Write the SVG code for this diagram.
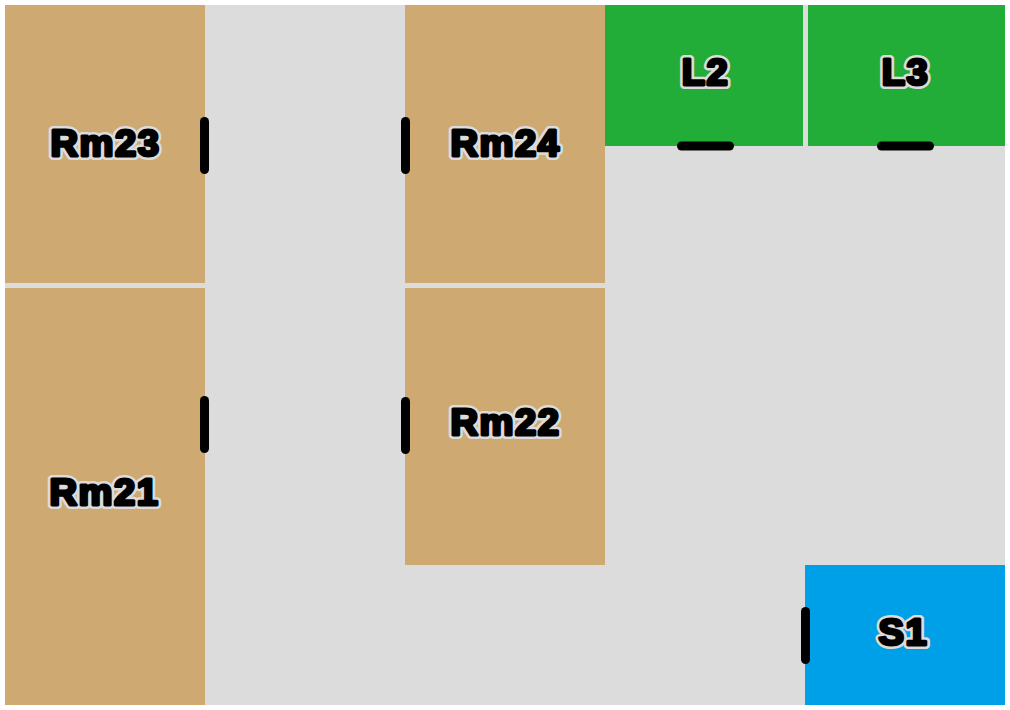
<svg xmlns="http://www.w3.org/2000/svg" width="1010" height="710" viewBox="0 0 1010 710">
<style>
.room{fill:#cea971}.lift{fill:#22ad39}.stair{fill:#00a0e9}
.door{stroke:#000;stroke-width:9;stroke-linecap:round;fill:none}
text{font-family:"Liberation Sans",Arial,sans-serif;font-weight:700;font-size:36px;letter-spacing:1.5px;text-anchor:middle;stroke-linejoin:round}
.halo{fill:#dcdcdc;stroke:#dcdcdc;stroke-width:8}
.ink{fill:#000;stroke:#000;stroke-width:3}
</style>
<rect width="1010" height="710" fill="#fff"/>
<rect id="floor" x="5" y="5" width="1000" height="700" fill="#dcdcdc"/>
<g id="Rm23"><rect class="room" x="5" y="5" width="200" height="278"/><g transform="translate(105.500 156) scale(1.06 1)"><text class="halo">Rm23</text><text class="ink">Rm23</text></g></g>
<g id="Rm24"><rect class="room" x="405" y="5" width="200" height="278"/><g transform="translate(505.500 156) scale(1.06 1)"><text class="halo">Rm24</text><text class="ink">Rm24</text></g></g>
<g id="Rm21"><rect class="room" x="5" y="288" width="200" height="417"/><g transform="translate(104.500 505) scale(1.06 1)"><text class="halo">Rm21</text><text class="ink">Rm21</text></g></g>
<g id="Rm22"><rect class="room" x="405" y="288" width="200" height="277"/><g transform="translate(505.500 435) scale(1.06 1)"><text class="halo">Rm22</text><text class="ink">Rm22</text></g></g>
<g id="L2"><rect class="lift" x="605" y="5" width="198" height="141"/><g transform="translate(705.500 85) scale(1.06 1)"><text class="halo">L2</text><text class="ink">L2</text></g></g>
<g id="L3"><rect class="lift" x="808" y="5" width="197" height="141"/><g transform="translate(905.500 85) scale(1.06 1)"><text class="halo">L3</text><text class="ink">L3</text></g></g>
<g id="S1"><rect class="stair" x="805" y="565" width="200" height="140"/><g transform="translate(903.500 645) scale(1.06 1)"><text class="halo">S1</text><text class="ink">S1</text></g></g>
<g id="connectors">
<path class="door" d="M204.500 121.500V169.500"/>
<path class="door" d="M405.500 121.500V169.500"/>
<path class="door" d="M204.500 400.500V448.500"/>
<path class="door" d="M405.500 401.500V449.500"/>
<path class="door" d="M681.500 146H729.500"/>
<path class="door" d="M881.500 146H929.500"/>
<path class="door" d="M805.500 611.500V659.500"/>
</g>
</svg>
